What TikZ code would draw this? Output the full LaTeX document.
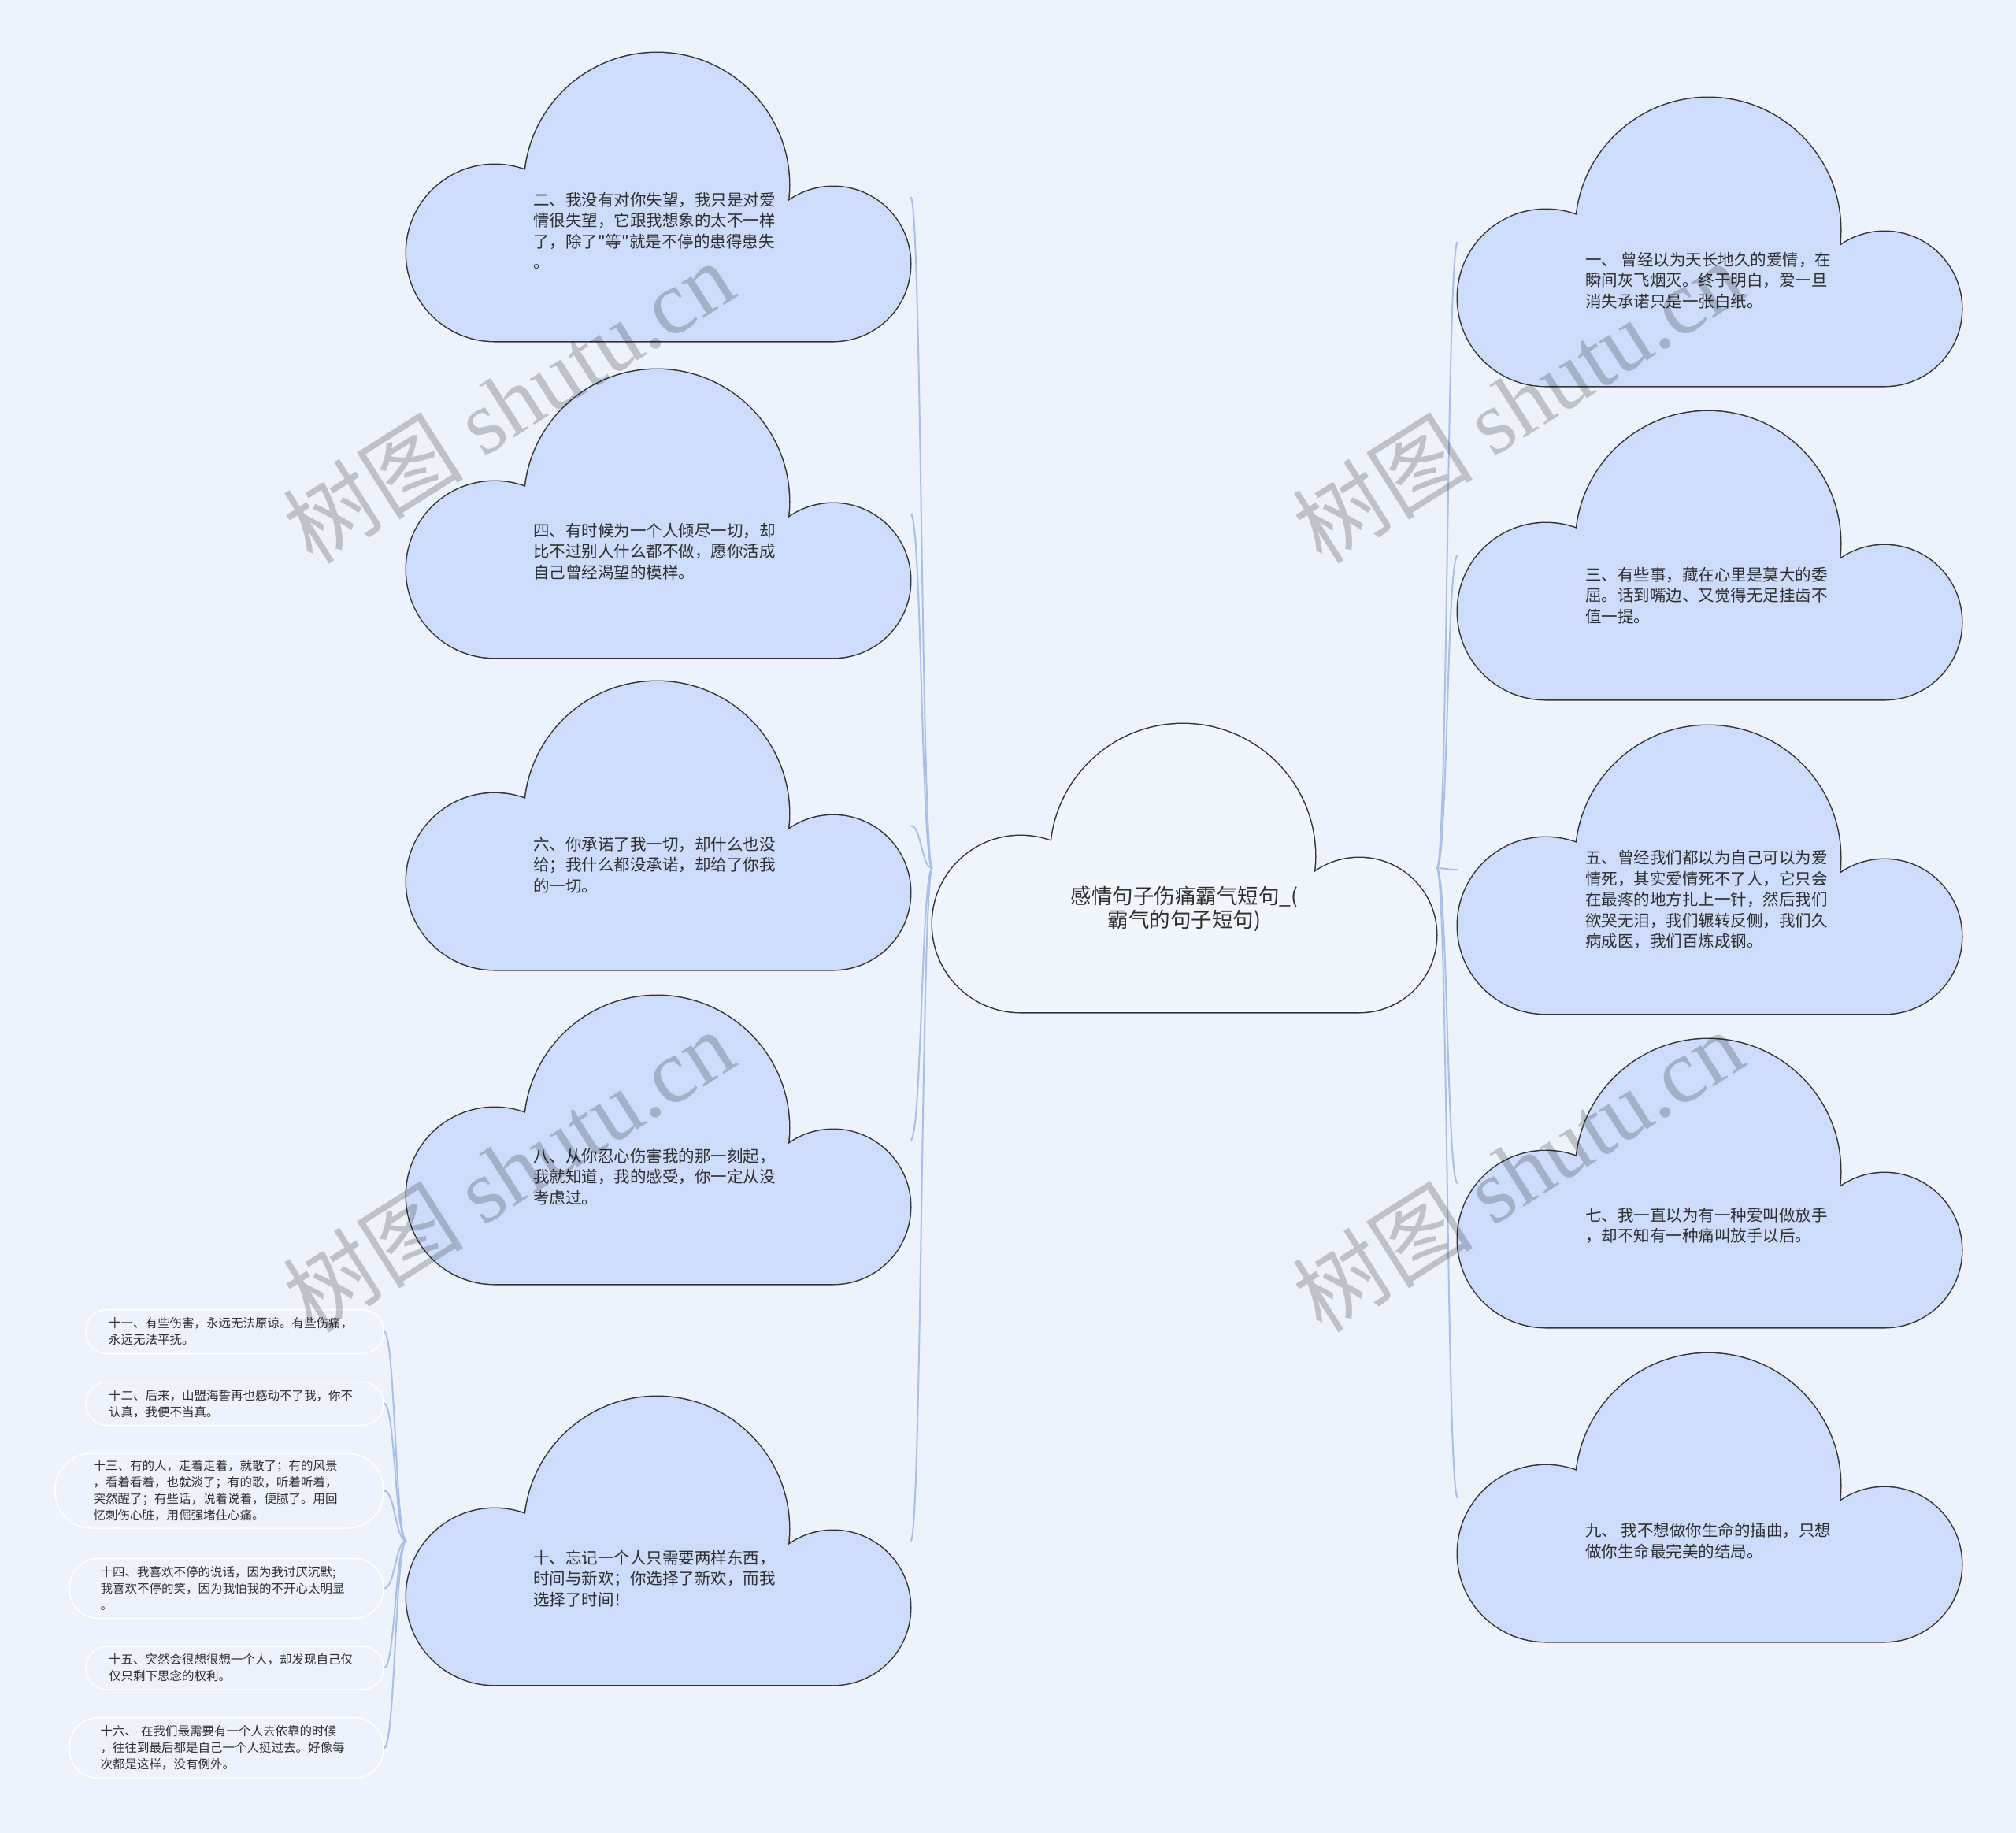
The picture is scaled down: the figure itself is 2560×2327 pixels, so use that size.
\documentclass[tikz,border=0pt]{standalone}
\usepackage{fontspec}
\newfontfamily\cjk{Noto Sans CJK SC}
\newfontfamily\wmserif{Liberation Serif}
\definecolor{bgc}{HTML}{EEF3FB}
\definecolor{cloudfill}{HTML}{CCDCFA}
\definecolor{centerfill}{HTML}{F1F5FC}
\definecolor{outlinec}{HTML}{333333}
\definecolor{linkc}{HTML}{A8BFEA}
\definecolor{pillline}{HTML}{FFFFFF}
\definecolor{textc}{HTML}{2E2E2E}
\tikzset{
  cloudbox/.style={minimum width=640pt, minimum height=366pt, inner sep=0pt, anchor=north west},
  cloudtext/.style={anchor=west, align=left, inner sep=0pt, text=textc, font=\cjk\fontsize{20.5}{26.5}\selectfont},
  centertext/.style={align=center, inner sep=0pt, text=textc, font=\cjk\fontsize{26.5}{30}\selectfont},
  pill/.style={draw=pillline, line width=1.5pt, fill=bgc, text width=320pt, align=left, inner sep=0pt, text=textc, font=\cjk\fontsize{15.5}{21}\selectfont},
  link/.style={draw=linkc, line width=2pt},
  wmark/.style={text=black, opacity=0.2, rotate=32.4, inner sep=0pt, font=\cjk\fontsize{115}{115}\selectfont}
}
\newcommand\drawcloud[4]{%
  \begin{scope}[shift={(#1,#2)}]
    \draw[outlinec, line width=3pt] (112,254) circle[radius=112pt] (318,168) circle[radius=168pt] (542,268) circle[radius=98pt] (112,268) rectangle (542,366);
    \fill[#3] (112,254) circle[radius=112pt];
    \fill[#3] (318,168) circle[radius=168pt];
    \fill[#3] (542,268) circle[radius=98pt];
    \fill[#3] (112,268) rectangle (542,366);
  \end{scope}
  \node[cloudbox] (#4) at (#1,#2) {};
}
\begin{document}
\begin{tikzpicture}[x=1pt, y=-1pt]
\fill[bgc] (0,0) rectangle (2560,2327);
\useasboundingbox (0,0) rectangle (2560,2327);

% boxes (named) for connectors
\node[cloudbox] (c) at (1184,919) {};
\node[cloudbox] (L2) at (516,67) {};
\node[cloudbox] (L4) at (516,469) {};
\node[cloudbox] (L6) at (516,865) {};
\node[cloudbox] (L8) at (516,1264) {};
\node[cloudbox] (L10) at (516,1773) {};
\node[cloudbox] (R1) at (1851,124) {};
\node[cloudbox] (R3) at (1851,522) {};
\node[cloudbox] (R5) at (1851,921) {};
\node[cloudbox] (R7) at (1851,1319) {};
\node[cloudbox] (R9) at (1851,1718) {};

% connectors
\foreach \t in {L2,L4,L6,L8,L10}{
  \draw[link] (c.west) .. controls ([xshift=-14pt]c.west) and ([xshift=14pt]\t.east) .. (\t.east);
}
\foreach \t in {R1,R3,R5,R7,R9}{
  \draw[link] (c.east) .. controls ([xshift=14pt]c.east) and ([xshift=-14pt]\t.west) .. (\t.west);
}

% clouds
\drawcloud{1184}{919}{centerfill}{cc}
\drawcloud{516}{67}{cloudfill}{l2}
\drawcloud{516}{469}{cloudfill}{l4}
\drawcloud{516}{865}{cloudfill}{l6}
\drawcloud{516}{1264}{cloudfill}{l8}
\drawcloud{516}{1773}{cloudfill}{l10}
\drawcloud{1851}{124}{cloudfill}{r1}
\drawcloud{1851}{522}{cloudfill}{r3}
\drawcloud{1851}{921}{cloudfill}{r5}
\drawcloud{1851}{1319}{cloudfill}{r7}
\drawcloud{1851}{1718}{cloudfill}{r9}

% texts
\node[centertext] (tc) at (1504,1154) {感情句子伤痛霸气短句\_(\\霸气的句子短句)};
\node[cloudtext] (t2) at (677,293) {二、我没有对你失望，我只是对爱\\情很失望，它跟我想象的太不一样\\了，除了"等"就是不停的患得患失\\。};
\node[cloudtext] (t4) at (677,700) {四、有时候为一个人倾尽一切，却\\比不过别人什么都不做，愿你活成\\自己曾经渴望的模样。};
\node[cloudtext] (t6) at (677,1098) {六、你承诺了我一切，却什么也没\\给；我什么都没承诺，却给了你我\\的一切。};
\node[cloudtext] (t8) at (677,1494) {八、从你忍心伤害我的那一刻起，\\我就知道，我的感受，你一定从没\\考虑过。};
\node[cloudtext] (t10) at (677,2004) {十、忘记一个人只需要两样东西，\\时间与新欢；你选择了新欢，而我\\选择了时间！};
\node[cloudtext] (t1) at (2013,356) {一、 曾经以为天长地久的爱情，在\\瞬间灰飞烟灭。终于明白，爱一旦\\消失承诺只是一张白纸。};
\node[cloudtext] (t3) at (2013,756) {三、有些事，藏在心里是莫大的委\\屈。话到嘴边、又觉得无足挂齿不\\值一提。};
\node[cloudtext] (t5) at (2013,1142) {五、曾经我们都以为自己可以为爱\\情死，其实爱情死不了人，它只会\\在最疼的地方扎上一针，然后我们\\欲哭无泪，我们辗转反侧，我们久\\病成医，我们百炼成钢。};
\node[cloudtext] (t7) at (2013,1556) {七、我一直以为有一种爱叫做放手\\，却不知有一种痛叫放手以后。};
\node[cloudtext] (t9) at (2013,1956) {九、 我不想做你生命的插曲，只想\\做你生命最完美的结局。};

% small pills
\node[pill, minimum width=378pt, minimum height=56pt, rounded corners=27pt] (p11) at (298,1690.5) {十一、有些伤害，永远无法原谅。有些伤痛，\\永远无法平抚。};
\node[pill, minimum width=378pt, minimum height=55pt, rounded corners=27pt] (p12) at (298,1782) {十二、后来，山盟海誓再也感动不了我，你不\\认真，我便不当真。};
\node[pill, minimum width=417pt, minimum height=95pt, rounded corners=46pt] (p13) at (278.5,1892.5) {十三、有的人，走着走着，就散了；有的风景\\，看着看着，也就淡了；有的歌，听着听着，\\突然醒了；有些话，说着说着，便腻了。用回\\忆刺伤心脏，用倔强堵住心痛。};
\node[pill, minimum width=399pt, minimum height=76pt, rounded corners=37pt] (p14) at (287.5,2016.5) {十四、我喜欢不停的说话，因为我讨厌沉默;\\我喜欢不停的笑，因为我怕我的不开心太明显\\。};
\node[pill, minimum width=378pt, minimum height=55pt, rounded corners=27pt] (p15) at (298,2117.5) {十五、突然会很想很想一个人，却发现自己仅\\仅只剩下思念的权利。};
\node[pill, minimum width=399pt, minimum height=77pt, rounded corners=37pt] (p16) at (287.5,2219) {十六、 在我们最需要有一个人去依靠的时候\\，往往到最后都是自己一个人挺过去。好像每\\次都是这样，没有例外。};

\foreach \p in {p11,p12,p13,p14,p15,p16}{
  \draw[link] (L10.west) .. controls ([xshift=-14pt]L10.west) and ([xshift=14pt]\p.east) .. (\p.east);
}

% watermarks
\node[wmark] (w1) at (645,510) {树图 {\wmserif shutu.cn}};
\node[wmark] (w2) at (645,1486) {树图 {\wmserif shutu.cn}};
\node[wmark] (w3) at (1927,510) {树图 {\wmserif shutu.cn}};
\node[wmark] (w4) at (1927,1486) {树图 {\wmserif shutu.cn}};
\end{tikzpicture}
\end{document}
